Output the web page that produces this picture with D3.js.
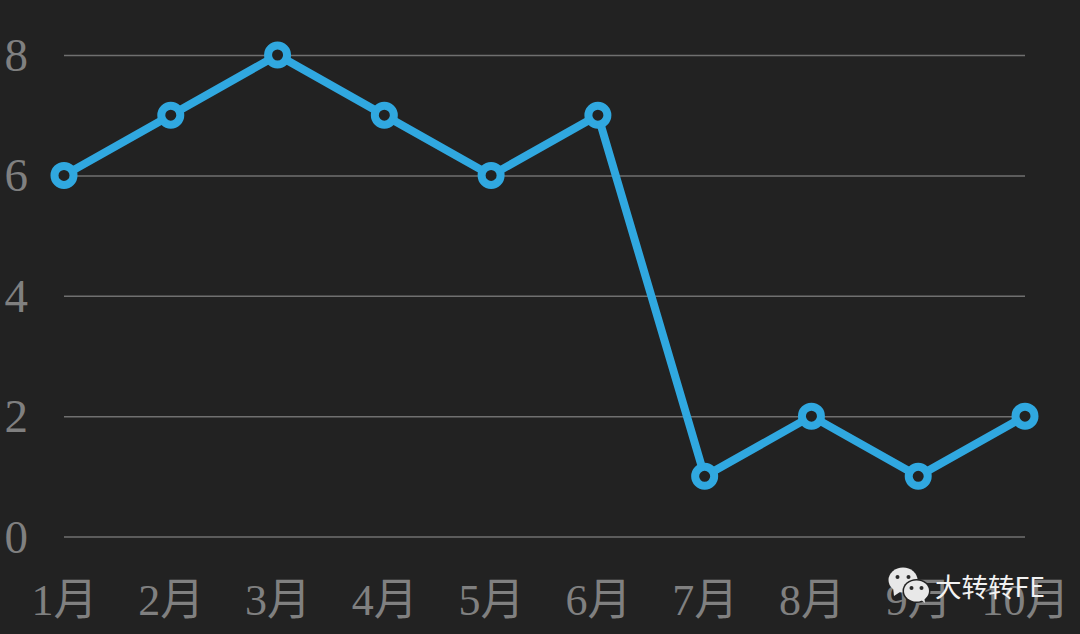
<!DOCTYPE html>
<html>
<head>
<meta charset="utf-8">
<script src="https://cdn.jsdelivr.net/npm/d3@7"></script>
<style>
  html, body { margin: 0; padding: 0; background: #222222; }
  svg { display: block; }
</style>
</head>
<body>
<div id="chart"></div>
<script>
const months = ["1月", "2月", "3月", "4月", "5月", "6月", "7月", "8月", "9月", "10月"];
const values = [6, 7, 8, 7, 6, 7, 1, 2, 1, 2];
const yTicks = [0, 2, 4, 6, 8];

const width = 1080;
const height = 634;
const margin = { top: 55, right: 55, bottom: 97.5, left: 64 };

const svg = d3.select("#chart").append("svg")
  .attr("width", width)
  .attr("height", height);

svg.append("rect")
  .attr("width", width)
  .attr("height", height)
  .attr("fill", "#222222");

const x = d3.scalePoint()
  .domain(months)
  .range([margin.left, width - margin.right]);

const y = d3.scaleLinear()
  .domain([0, 8])
  .range([height - margin.bottom, margin.top]);

const font = "'Liberation Serif', 'Noto Sans CJK SC', serif";

// grid lines + y labels
const yAxis = svg.append("g")
  .attr("transform", `translate(${margin.left},0)`)
  .call(d3.axisLeft(y)
    .tickValues(yTicks)
    .tickSize(-(width - margin.left - margin.right))
    .tickPadding(30));
yAxis.select(".domain").remove();
yAxis.selectAll(".tick line")
  .attr("stroke", "#707070")
  .attr("stroke-width", 1.5);
yAxis.selectAll(".tick text")
  .attr("fill", "#808080")
  .attr("font-family", font)
  .attr("font-size", 47)
  .attr("dy", "0.33em")
  .attr("x", -36);

// month labels
const xAxis = svg.append("g")
  .attr("transform", `translate(0,${height - margin.bottom})`)
  .call(d3.axisBottom(x).tickSize(0).tickPadding(47));
xAxis.select(".domain").remove();
xAxis.selectAll(".tick text")
  .attr("fill", "#808080")
  .attr("font-family", font)
  .attr("font-size", 44);

// line
const line = d3.line()
  .x((d, i) => x(months[i]))
  .y(d => y(d));

svg.append("path")
  .datum(values)
  .attr("fill", "none")
  .attr("stroke", "#30a8e0")
  .attr("stroke-width", 8)
  .attr("stroke-linejoin", "round")
  .attr("d", line);

svg.selectAll("circle.pt")
  .data(values)
  .join("circle")
  .attr("class", "pt")
  .attr("cx", (d, i) => x(months[i]))
  .attr("cy", d => y(d))
  .attr("r", 9.5)
  .attr("fill", "#222222")
  .attr("stroke", "#30a8e0")
  .attr("stroke-width", 8);

// watermark
const mark = svg.append("g").attr("transform", "translate(889,567)");
function bubble(g, cx, cy, rx, ry, tail, eye) {
  g.append("ellipse").attr("cx", cx).attr("cy", cy).attr("rx", rx).attr("ry", ry).attr("fill", "#e8e8e8");
  g.append("path").attr("d", tail).attr("fill", "#e8e8e8");
  [-eye, eye].forEach(dx => {
    g.append("circle").attr("cx", cx + dx).attr("cy", cy - 3).attr("r", 2).attr("fill", "#2a2a2a");
  });
}
bubble(mark, 14, 13, 14.5, 12.5, "M4,20 L5,29 L14,23 Z", 5.5);
mark.append("ellipse").attr("cx", 27.5).attr("cy", 24).attr("rx", 14).attr("ry", 12).attr("fill", "#222222");
bubble(mark, 27.5, 24, 12.5, 10.5, "M31,32 L36,36 L35,28 Z", 5);

svg.append("text")
  .attr("x", 935)
  .attr("y", 597)
  .attr("fill", "#f2f2f2")
  .attr("font-family", "'Noto Sans CJK SC', sans-serif")
  .attr("font-size", 26.5)
  .text("大转转FE");
</script>
</body>
</html>
